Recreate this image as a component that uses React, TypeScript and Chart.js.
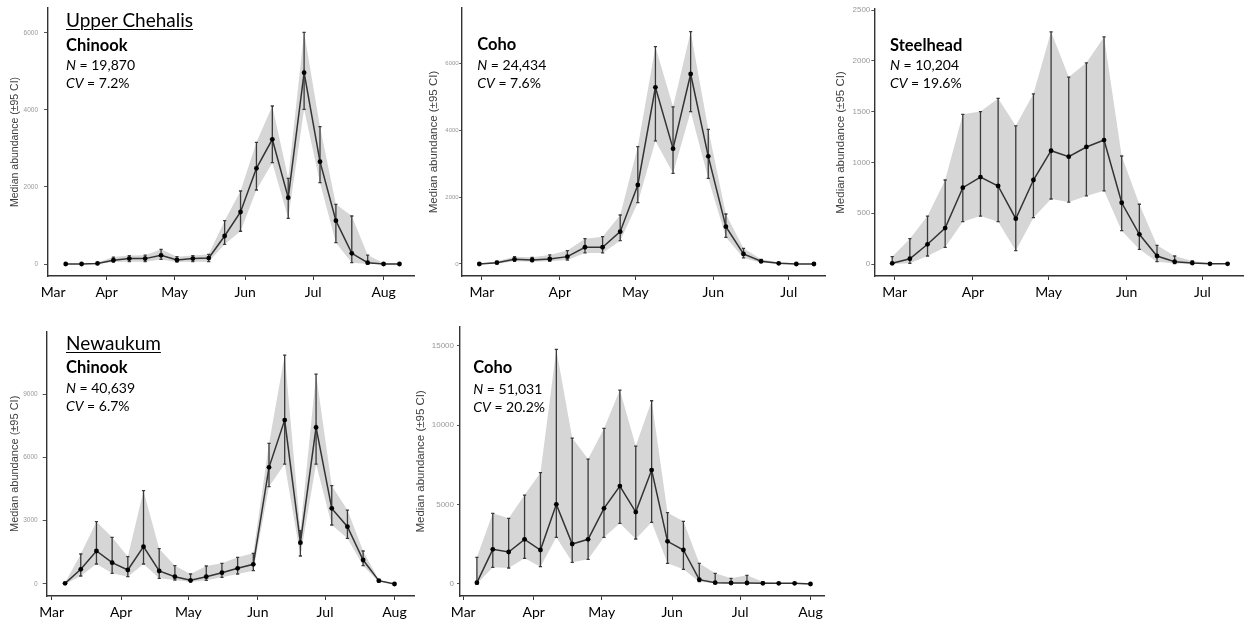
import React, { useEffect, useRef } from 'react';
import { Chart, registerables } from 'chart.js';

Chart.register(...registerables);

// ---------- DATA ----------
// x values are days counted from 1 March (Mar 1 = 0)
const monthLabels = ['Mar', 'Apr', 'May', 'Jun', 'Jul', 'Aug'];
const monthDays = [0, 31, 61, 92, 122, 153];

// Upper Chehalis – Chinook
const ucChinookDays = [13, 20, 27, 34, 41, 48, 55, 62, 69, 76, 83, 90, 97, 104, 111, 118, 125, 132, 139, 146, 153, 160];
const ucChinookMedian = [0, 0, 15, 100, 140, 140, 225, 105, 140, 155, 726, 1349, 2482, 3234, 1721, 4963, 2655, 1124, 277, 35, 0, 0];
const ucChinookUpper = [0, 0, 40, 180, 220, 230, 380, 190, 220, 250, 1124, 1894, 3156, 4099, 2222, 6010, 3562, 1548, 1245, 233, 20, 10];
const ucChinookLower = [0, 0, 0, 50, 60, 60, 120, 50, 60, 60, 510, 850, 1920, 2629, 1185, 4012, 2110, 553, 35, 0, 0, 0];

// Upper Chehalis – Coho
const ucCohoDays = [-1, 6, 13, 20, 27, 34, 41, 48, 55, 62, 69, 76, 83, 90, 97, 104, 111, 118, 125, 132];
const ucCohoMedian = [0, 40, 140, 120, 150, 220, 500, 500, 967, 2362, 5282, 3448, 5680, 3219, 1116, 300, 80, 20, 0, 0];
const ucCohoUpper = [10, 80, 220, 200, 270, 400, 757, 817, 1465, 3508, 6497, 4700, 6946, 4026, 1495, 468, 140, 50, 15, 10];
const ucCohoLower = [0, 10, 80, 70, 80, 120, 330, 330, 698, 1834, 3680, 2711, 4554, 2561, 797, 180, 40, 5, 0, 0];

// Upper Chehalis – Steelhead
const ucSteelDays = [-1, 6, 13, 20, 27, 34, 41, 48, 55, 62, 69, 76, 83, 90, 97, 104, 111, 118, 125, 132];
const ucSteelMedian = [7, 52, 194, 354, 751, 856, 768, 446, 827, 1115, 1056, 1152, 1220, 603, 292, 79, 23, 10, 2, 2];
const ucSteelUpper = [72, 249, 472, 827, 1473, 1500, 1630, 1360, 1675, 2285, 1840, 1980, 2235, 1063, 588, 184, 79, 30, 10, 5];
const ucSteelLower = [0, 7, 79, 164, 417, 472, 417, 131, 456, 640, 610, 670, 720, 328, 145, 23, 5, 2, 0, 0];

// Newaukum – Chinook
const nwChinookDays = [6, 13, 20, 27, 34, 41, 48, 55, 62, 69, 76, 83, 90, 97, 104, 111, 118, 125, 132, 139, 146, 153];
const nwChinookMedian = [30, 695, 1563, 1010, 663, 1768, 616, 347, 174, 347, 537, 742, 932, 5527, 7769, 1958, 7421, 3584, 2716, 1137, 158, 0];
const nwChinookUpper = [60, 1421, 2953, 2211, 1295, 4421, 1674, 868, 474, 853, 979, 1263, 1453, 6664, 10848, 2526, 9948, 4658, 3505, 1563, 190, 10];
const nwChinookLower = [0, 379, 947, 505, 347, 947, 268, 190, 95, 174, 316, 474, 632, 4611, 5685, 1326, 5685, 2795, 2163, 868, 95, 0];

// Newaukum – Coho
const nwCohoDays = [6, 13, 20, 27, 34, 41, 48, 55, 62, 69, 76, 83, 90, 97, 104, 111, 118, 125, 132, 139, 146, 153];
const nwCohoMedian = [84, 2182, 2014, 2812, 2140, 5015, 2518, 2812, 4763, 6169, 4532, 7176, 2686, 2140, 273, 84, 63, 63, 42, 42, 42, 0];
const nwCohoUpper = [1679, 4448, 4133, 5602, 7008, 14771, 9190, 7868, 9799, 12211, 8687, 11540, 4490, 3945, 1301, 671, 357, 546, 147, 60, 50, 10];
const nwCohoLower = [0, 1049, 1007, 1616, 1091, 2937, 1364, 1553, 2937, 3819, 2833, 3882, 1301, 923, 147, 42, 20, 20, 20, 20, 20, 0];

// y-axis tick values
const ucChinookYTicks = [0, 2000, 4000, 6000];
const ucCohoYTicks = [0, 2000, 4000, 6000];
const ucSteelYTicks = [0, 500, 1000, 1500, 2000, 2500];
const nwChinookYTicks = [0, 3000, 6000, 9000];
const nwCohoYTicks = [0, 5000, 10000, 15000];

const yTitle = 'Median abundance (±95 CI)';

// ---------- STYLE ----------
const RIBBON = '#d6d6d6';
const LINE = '#333333';
const AXIS = '#333333';
const ANNOT_FONT = 'Lato, "Open Sans", sans-serif';
const TICK_FONT = '"Liberation Sans", Arial, sans-serif';

type PanelCfg = {
  left: number; top: number; width: number; height: number;
  padTop: number; yWidth: number; xHeight: number;
  xMin: number; xMax: number; yMin: number; yMax: number;
  xTicks: number[]; xLabels: string[]; hiddenTicks: number[];
  yTicks: number[]; yTickLen: number; yTickPad: number; yTickSize: number;
  titleSize: number; titlePad: number;
  days: number[]; median: number[]; upper: number[]; lower: number[];
};

const panels: PanelCfg[] = [
  {
    left: 0, top: 0, width: 418, height: 310, padTop: 8, yWidth: 48, xHeight: 34,
    xMin: 5.2, xMax: 166.4, yMin: -311, yMax: 6641,
    xTicks: [7.5, ...monthDays.slice(1)], xLabels: monthLabels, hiddenTicks: [7.5],
    yTicks: ucChinookYTicks, yTickLen: 4, yTickPad: 6, yTickSize: 6.5,
    titleSize: 10.5, titlePad: 8.7,
    days: ucChinookDays, median: ucChinookMedian, upper: ucChinookUpper, lower: ucChinookLower,
  },
  {
    left: 425, top: 0, width: 404, height: 310, padTop: 8, yWidth: 36.7, xHeight: 34,
    xMin: -8.0, xMax: 136.4, yMin: -359, yMax: 7653,
    xTicks: monthDays.slice(0, 5), xLabels: monthLabels.slice(0, 5), hiddenTicks: [],
    yTicks: ucCohoYTicks, yTickLen: 2.5, yTickPad: 0.5, yTickSize: 6,
    titleSize: 11.5, titlePad: 2.1,
    days: ucCohoDays, median: ucCohoMedian, upper: ucCohoUpper, lower: ucCohoLower,
  },
  {
    left: 834, top: 0, width: 413, height: 310, padTop: 9, yWidth: 40.3, xHeight: 34,
    xMin: -8.1, xMax: 138.1, yMin: -118, yMax: 2510,
    xTicks: monthDays.slice(0, 5), xLabels: monthLabels.slice(0, 5), hiddenTicks: [],
    yTicks: ucSteelYTicks, yTickLen: 3, yTickPad: 1, yTickSize: 8,
    titleSize: 11.5, titlePad: 0.1,
    days: ucSteelDays, median: ucSteelMedian, upper: ucSteelUpper, lower: ucSteelLower,
  },
  {
    left: 0, top: 320, width: 418, height: 300, padTop: 11.7, yWidth: 46.7, xHeight: 24,
    xMin: -2.2, xMax: 161.7, yMin: -569, yMax: 11957,
    xTicks: monthDays, xLabels: monthLabels, hiddenTicks: [],
    yTicks: nwChinookYTicks, yTickLen: 4, yTickPad: 5, yTickSize: 6.5,
    titleSize: 11, titlePad: 8.4,
    days: nwChinookDays, median: nwChinookMedian, upper: nwChinookUpper, lower: nwChinookLower,
  },
  {
    left: 414, top: 320, width: 414, height: 300, padTop: 6.7, yWidth: 46, xHeight: 24,
    xMin: -1.45, xMax: 158.95, yMin: -756, yMax: 16203,
    xTicks: monthDays, xLabels: monthLabels, hiddenTicks: [],
    yTicks: nwCohoYTicks, yTickLen: 3, yTickPad: 3, yTickSize: 8,
    titleSize: 11.5, titlePad: 0.1,
    days: nwCohoDays, median: nwCohoMedian, upper: nwCohoUpper, lower: nwCohoLower,
  },
];

type Annot = { x: number; baseline: number; size: number; kind: 'region' | 'species' | 'stat'; text: string; italic?: string };

const annotations: Annot[] = [
  { x: 66, baseline: 27.5, size: 19, kind: 'region', text: 'Upper Chehalis' },
  { x: 66, baseline: 52, size: 16.5, kind: 'species', text: 'Chinook' },
  { x: 66, baseline: 70.5, size: 14, kind: 'stat', italic: 'N', text: ' = 19,870' },
  { x: 66, baseline: 88.8, size: 14, kind: 'stat', italic: 'CV', text: ' = 7.2%' },

  { x: 477.3, baseline: 51.7, size: 16.5, kind: 'species', text: 'Coho' },
  { x: 477.3, baseline: 70.5, size: 14, kind: 'stat', italic: 'N', text: ' = 24,434' },
  { x: 477.3, baseline: 88.8, size: 14, kind: 'stat', italic: 'CV', text: ' = 7.6%' },

  { x: 890, baseline: 52, size: 16.5, kind: 'species', text: 'Steelhead' },
  { x: 890, baseline: 71, size: 14, kind: 'stat', italic: 'N', text: ' = 10,204' },
  { x: 890, baseline: 88.8, size: 14, kind: 'stat', italic: 'CV', text: ' = 19.6%' },

  { x: 66, baseline: 351.2, size: 19, kind: 'region', text: 'Newaukum' },
  { x: 66, baseline: 374.6, size: 16.5, kind: 'species', text: 'Chinook' },
  { x: 66, baseline: 393.8, size: 14, kind: 'stat', italic: 'N', text: ' = 40,639' },
  { x: 66, baseline: 412.2, size: 14, kind: 'stat', italic: 'CV', text: ' = 6.7%' },

  { x: 473.3, baseline: 374.6, size: 16.5, kind: 'species', text: 'Coho' },
  { x: 473.3, baseline: 394.5, size: 14, kind: 'stat', italic: 'N', text: ' = 51,031' },
  { x: 473.3, baseline: 413.2, size: 14, kind: 'stat', italic: 'CV', text: ' = 20.2%' },
];

function makeErrorBarPlugin(p: PanelCfg) {
  return {
    id: 'errorBars',
    afterDatasetDraw(chart: any, args: any) {
      if (args.index !== 1) return;
      const { ctx, scales } = chart;
      const xs = scales.x;
      const ys = scales.y;
      ctx.save();
      ctx.strokeStyle = '#3a3a3a';
      ctx.lineWidth = 1.3;
      const cap = 1.6;
      p.days.forEach((d: number, i: number) => {
        const lo = p.lower[i];
        const hi = p.upper[i];
        if (hi - lo <= 0) return;
        const x = xs.getPixelForValue(d);
        const y1 = ys.getPixelForValue(lo);
        const y2 = ys.getPixelForValue(hi);
        if (Math.abs(y1 - y2) < 2) return;
        ctx.beginPath();
        ctx.moveTo(x, y1);
        ctx.lineTo(x, y2);
        ctx.moveTo(x - cap, y1);
        ctx.lineTo(x + cap, y1);
        ctx.moveTo(x - cap, y2);
        ctx.lineTo(x + cap, y2);
        ctx.stroke();
      });
      ctx.restore();
    },
  };
}

function Panel({ p }: { p: PanelCfg }) {
  const ref = useRef<HTMLCanvasElement | null>(null);
  useEffect(() => {
    if (!ref.current) return;
    const pts = (arr: number[]) => p.days.map((d, i) => ({ x: d, y: arr[i] }));
    const labelFor = (v: number) => {
      const idx = p.xTicks.indexOf(v);
      return idx >= 0 ? p.xLabels[idx] : '';
    };
    const chart = new Chart(ref.current, {
      type: 'line',
      data: {
        datasets: [
          {
            label: 'Median',
            data: pts(p.median),
            borderColor: LINE,
            borderWidth: 1.5,
            pointRadius: 2.4,
            pointBackgroundColor: '#000',
            pointBorderColor: '#000',
            pointBorderWidth: 0,
            fill: false,
            tension: 0,
          },
          {
            label: 'Upper 95% CI',
            data: pts(p.upper),
            borderColor: 'rgba(0,0,0,0)',
            borderWidth: 0,
            pointRadius: 0,
            backgroundColor: RIBBON,
            fill: '+1',
            tension: 0,
          },
          {
            label: 'Lower 95% CI',
            data: pts(p.lower),
            borderColor: 'rgba(0,0,0,0)',
            borderWidth: 0,
            pointRadius: 0,
            fill: false,
            tension: 0,
          },
        ],
      } as any,
      options: {
        animation: false,
        responsive: false,
        maintainAspectRatio: false,
        devicePixelRatio: 1,
        events: [],
        layout: { padding: { top: p.padTop, left: 0, right: 0, bottom: 0 } },
        plugins: {
          legend: { display: false },
          tooltip: { enabled: false },
          title: { display: false },
        },
        scales: {
          x: {
            type: 'linear',
            min: p.xMin,
            max: p.xMax,
            offset: false,
            afterBuildTicks: (s: any) => {
              s.ticks = p.xTicks.map((v) => ({ value: v }));
            },
            afterFit: (s: any) => {
              s.height = p.xHeight;
              s.paddingLeft = 0;
              s.paddingRight = 0;
            },
            ticks: {
              autoSkip: false,
              maxRotation: 0,
              minRotation: 0,
              padding: 4.5,
              color: '#000',
              font: { family: ANNOT_FONT, size: 14 },
              callback: (v: any) => labelFor(Number(v)),
            },
            grid: {
              display: true,
              drawOnChartArea: false,
              drawTicks: true,
              tickLength: 4,
              tickWidth: 1,
              tickColor: (ctx: any) =>
                ctx.tick && p.hiddenTicks.includes(ctx.tick.value) ? 'rgba(0,0,0,0)' : AXIS,
            },
            border: { display: true, color: AXIS, width: 1.4 },
          },
          y: {
            type: 'linear',
            min: p.yMin,
            max: p.yMax,
            afterBuildTicks: (s: any) => {
              s.ticks = p.yTicks.map((v) => ({ value: v }));
            },
            afterFit: (s: any) => {
              s.width = p.yWidth;
              s.paddingTop = 0;
              s.paddingBottom = 0;
            },
            ticks: {
              autoSkip: false,
              padding: p.yTickPad,
              color: '#999999',
              font: { family: TICK_FONT, size: p.yTickSize },
              callback: (v: any) => String(v),
            },
            grid: {
              display: true,
              drawOnChartArea: false,
              drawTicks: true,
              tickLength: p.yTickLen,
              tickWidth: 1,
              tickColor: '#555',
            },
            border: { display: true, color: AXIS, width: 1.4 },
            title: {
              display: true,
              text: yTitle,
              color: '#404040',
              font: { family: TICK_FONT, size: p.titleSize },
              padding: { top: p.titlePad, bottom: 0 },
            },
          },
        },
      } as any,
      plugins: [makeErrorBarPlugin(p)],
    });
    return () => chart.destroy();
  }, [p]);
  return (
    <canvas
      ref={ref}
      width={p.width}
      height={p.height}
      style={{ position: 'absolute', left: p.left, top: p.top, width: p.width, height: p.height }}
    />
  );
}

function Annotation({ a }: { a: Annot }) {
  const top = a.baseline - 0.987 * a.size;
  const style: React.CSSProperties = {
    position: 'absolute',
    left: a.x,
    top,
    fontFamily: ANNOT_FONT,
    fontSize: a.size,
    lineHeight: 1.2,
    whiteSpace: 'nowrap',
    color: '#000',
    fontWeight: a.kind === 'species' ? 700 : 400,
    textDecoration: a.kind === 'region' ? 'underline' : 'none',
    textDecorationThickness: a.kind === 'region' ? '1.3px' : undefined,
    textUnderlineOffset: a.kind === 'region' ? '2px' : undefined,
  };
  return (
    <div style={style}>
      {a.italic ? <i>{a.italic}</i> : null}
      {a.text}
    </div>
  );
}

export default function App() {
  return (
    <div
      style={{
        position: 'fixed',
        left: 0,
        top: 0,
        width: 1247,
        height: 620,
        background: '#fff',
        overflow: 'hidden',
      }}
    >
      {panels.map((p, i) => (
        <Panel key={i} p={p} />
      ))}
      {annotations.map((a, i) => (
        <Annotation key={i} a={a} />
      ))}
    </div>
  );
}
